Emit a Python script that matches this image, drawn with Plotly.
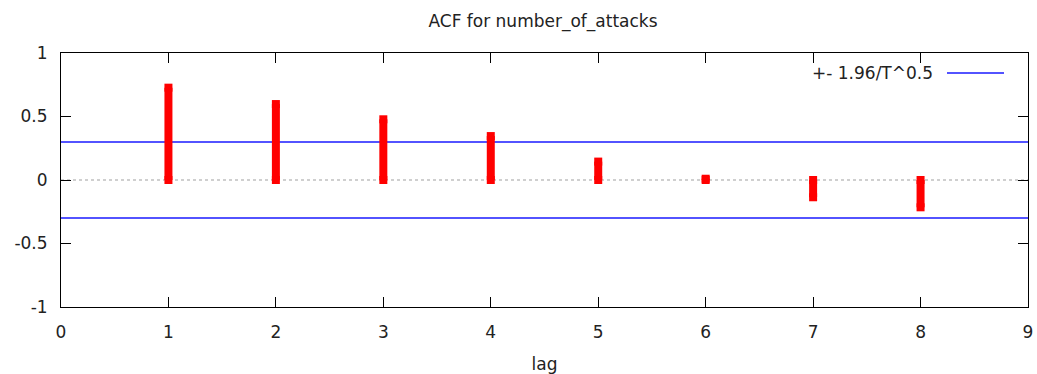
import plotly.graph_objects as go

# Autocorrelation values by lag
lags = [1, 2, 3, 4, 5, 6, 7, 8]
acf = [0.727, 0.598, 0.478, 0.346, 0.145, 0.01, -0.136, -0.215]
conf_band = 0.30  # +- 1.96/T^0.5
x_ticks = [0, 1, 2, 3, 4, 5, 6, 7, 8, 9]
y_ticks = [-1, -0.5, 0, 0.5, 1]
y_tick_labels = ["-1", "-0.5", "0", "0.5", "1"]

FONT = "DejaVu Sans"
FS = 17
TXT = "#222"
W, H = 1037, 374
ML, MR, MT, MB = 61, 9, 53, 67

fig = go.Figure()

# confidence band lines
fig.add_trace(go.Scatter(
    x=[x_ticks[0], x_ticks[-1], None, x_ticks[0], x_ticks[-1]],
    y=[conf_band, conf_band, None, -conf_band, -conf_band],
    mode="lines", line=dict(color="#1a1aff", width=1.5),
    showlegend=False, hoverinfo="skip",
))

# impulses: thick strokes from 0 to each value, square markers act as caps
imp_x, imp_y = [], []
for lag, v in zip(lags, acf):
    imp_x += [lag, lag, None]
    imp_y += [0, v, None]
fig.add_trace(go.Scatter(
    x=imp_x, y=imp_y, mode="lines+markers",
    line=dict(color="#ff0000", width=8),
    marker=dict(symbol="square", size=8, color="#ff0000", line=dict(width=0)),
    showlegend=False,
))

pw = W - ML - MR
ph = H - MT - MB


def px_x(p):
    return (p - ML) / pw


def px_y(p):
    return 1 - (p - MT) / ph


# zero reference line
fig.add_shape(type="line", xref="paper", yref="y", x0=0, x1=1, y0=0, y1=0,
              line=dict(color="#a0a0a0", width=1.2, dash="dot"), layer="below")

# legend key
fig.add_annotation(xref="paper", yref="paper", x=px_x(935), y=px_y(73),
                   xanchor="right", yanchor="middle", showarrow=False,
                   text="+- 1.96/T^0.5", font=dict(family=FONT, size=FS, color=TXT))
fig.add_shape(type="line", xref="paper", yref="paper",
              x0=px_x(947), x1=px_x(1004), y0=px_y(73), y1=px_y(73),
              line=dict(color="#1a1aff", width=1.5))

axis_common = dict(
    showline=True, linecolor="black", linewidth=1, mirror="allticks",
    ticks="inside", ticklen=10, tickcolor="black", showgrid=False, zeroline=False,
    tickfont=dict(family=FONT, size=FS, color=TXT), automargin=False,
)

fig.update_layout(
    width=W, height=H,
    margin=dict(l=ML, r=MR, t=MT, b=MB, autoexpand=False),
    paper_bgcolor="white", plot_bgcolor="white",
    title=dict(text="ACF for number_of_attacks", x=543 / W, xanchor="center",
               y=1 - 21 / H, yanchor="middle", yref="container",
               font=dict(family=FONT, size=FS, color=TXT)),
    xaxis=dict(range=[0, 9], tickvals=x_ticks, ticklabelstandoff=10, **axis_common,
               title=dict(text="lag", font=dict(family=FONT, size=FS, color=TXT), standoff=16)),
    yaxis=dict(range=[-1, 1], tickvals=y_ticks, ticktext=y_tick_labels,
               ticklabelstandoff=9, **axis_common),
)

fig.write_html("out.html")
